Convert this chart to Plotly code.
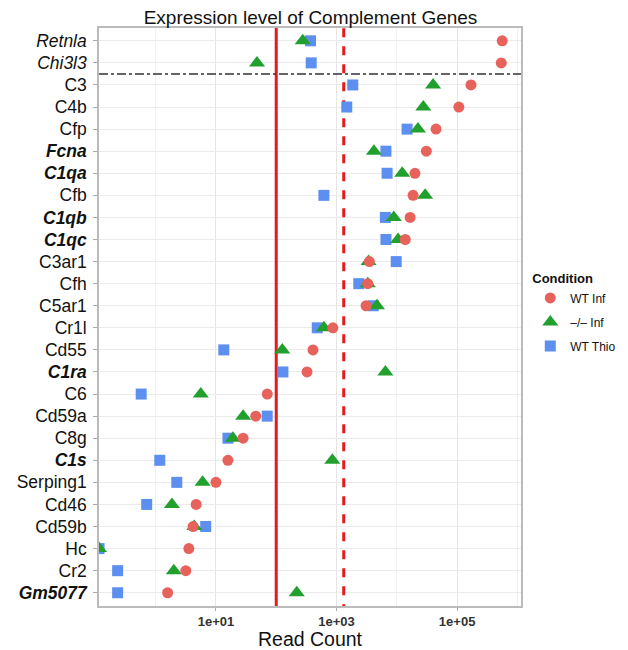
import plotly.graph_objects as go

# Genes, listed top to bottom as shown on the chart
genes = ["Retnla", "Chi3l3", "C3", "C4b", "Cfp", "Fcna", "C1qa", "Cfb", "C1qb", "C1qc",
         "C3ar1", "Cfh", "C5ar1", "Cr1l", "Cd55", "C1ra", "C6", "Cd59a", "C8g", "C1s",
         "Serping1", "Cd46", "Cd59b", "Hc", "Cr2", "Gm5077"]
gene_labels = ["<i>Retnla</i>", "<i>Chi3l3</i>", "C3", "C4b", "Cfp", "<b><i>Fcna</i></b>",
               "<b><i>C1qa</i></b>", "Cfb", "<b><i>C1qb</i></b>", "<b><i>C1qc</i></b>",
               "C3ar1", "Cfh", "C5ar1", "Cr1l", "Cd55", "<b><i>C1ra</i></b>", "C6", "Cd59a",
               "C8g", "<b><i>C1s</i></b>", "Serping1", "Cd46", "Cd59b", "Hc", "Cr2",
               "<b><i>Gm5077</i></b>"]

# Read counts per condition (Hc zero counts are drawn at the left edge)
wt_inf = [560000, 540000, 170000, 107000, 44700, 30900, 20000, 18600, 16600, 13800,
          3500, 3300, 3090, 870, 407, 324, 71, 45.7, 28.2, 15.8,
          10, 4.7, 4.17, 3.55, 3.16, 1.58]
ko_inf = [275, 48, 40000, 27500, 22400, 4170, 12300, 29500, 8900, 10500,
          3400, 3300, 4680, 617, 126, 6460, 5.6, 28.2, 19.1, 851,
          6.0, 1.86, 4.37, 0.115, 2.0, 219]
wt_thio = [370, 380, 1860, 1480, 14800, 6600, 6900, 617, 6460, 6600,
           9770, 2340, 4070, 479, 13.5, 129, 0.575, 70.8, 15.8, 1.17,
           2.24, 0.71, 6.76, 0.115, 0.234, 0.234]

threshold_solid = 100
threshold_dashed = 1318
separator_after = 2  # dash-dot line between Chi3l3 and C3

x_ticks = [10, 1000, 100000]
x_ticktext = ["<b>1e+01</b>", "<b>1e+03</b>", "<b>1e+05</b>"]
x_minor = [1, 100, 10000, 1000000]

n = len(genes)
ypos = [n - 1 - i for i in range(n)]  # top gene at highest y

fig = go.Figure()

fig.add_trace(go.Scatter(x=[threshold_solid, threshold_solid], y=[-5, n + 5], mode="lines",
                         line=dict(color="#E41A1C", width=3), showlegend=False, hoverinfo="skip"))
fig.add_trace(go.Scatter(x=[threshold_dashed, threshold_dashed], y=[-5, n + 5], mode="lines",
                         line=dict(color="#E41A1C", width=3, dash="dash"), showlegend=False,
                         hoverinfo="skip"))

fig.add_trace(go.Scatter(x=wt_thio, y=ypos, mode="markers", name="WT Thio", legendrank=3,
                         legendgroup="c", marker=dict(symbol="square", size=11, color="#5C8FF0"),
                         cliponaxis=True))
fig.add_trace(go.Scatter(x=ko_inf, y=ypos, mode="markers", name="\u2013/\u2013 Inf", legendrank=2,
                         legendgroup="b", marker=dict(symbol="triangle-up", size=14, color="#22A02E"),
                         cliponaxis=True))
fig.add_trace(go.Scatter(x=wt_inf, y=ypos, mode="markers", name="WT Inf", legendrank=1,
                         legendgroup="a", marker=dict(symbol="circle", size=11, color="#E8625C"),
                         cliponaxis=True))

sep_y = n - separator_after + 0.5 - 1
fig.add_shape(type="line", xref="paper", x0=0, x1=1, yref="y", y0=sep_y, y1=sep_y,
              line=dict(color="#333333", width=1.5, dash="dashdot"))

# page body adds an 8px offset, so the figure is sized 620x642
fig.update_layout(
    width=620, height=642,
    margin=dict(l=91, r=107, t=20, b=44, autoexpand=False),
    paper_bgcolor="white", plot_bgcolor="white",
    font=dict(family="Liberation Sans, Arial, sans-serif", color="#111111"),
    title=dict(text="Expression level of Complement Genes", x=302.5 / 620, xanchor="center",
               y=1 - 9 / 642, yanchor="middle", font=dict(size=19, color="#111111")),
    legend=dict(title=dict(text="<b>Condition</b>", font=dict(size=13)), font=dict(size=12),
                x=1.022, xanchor="left", y=0.506, yanchor="middle", tracegroupgap=5,
                itemwidth=30, bgcolor="rgba(0,0,0,0)"),
    showlegend=True,
)

fig.update_xaxes(type="log", range=[-0.94, 6.06], tickvals=x_ticks, ticktext=x_ticktext,
                 tickfont=dict(size=13, color="#333333"), showgrid=True, gridcolor="#E5E5E5",
                 gridwidth=1, ticks="outside", ticklen=3, tickcolor="#AAAAAA", automargin=False,
                 showline=True, mirror=True, linecolor="#BBBBBB", linewidth=1.5, zeroline=False,
                 minor=dict(tickvals=x_minor, showgrid=True, gridcolor="#F0F0F0", ticks=""),
                 title=dict(text="Read Count", font=dict(size=19.5, color="#111111"), standoff=7))
fig.update_yaxes(range=[-0.6, n - 1 + 0.58], tickvals=ypos, ticktext=gene_labels,
                 tickfont=dict(size=17.5, color="#111111"), showgrid=True, gridcolor="#EBEBEB",
                 ticks="outside", ticklen=4, tickcolor="#AAAAAA", showline=True, mirror=True,
                 linecolor="#BBBBBB", linewidth=1.5, zeroline=False, automargin=False,
                 ticklabelstandoff=3)

fig.write_html("out.html")
